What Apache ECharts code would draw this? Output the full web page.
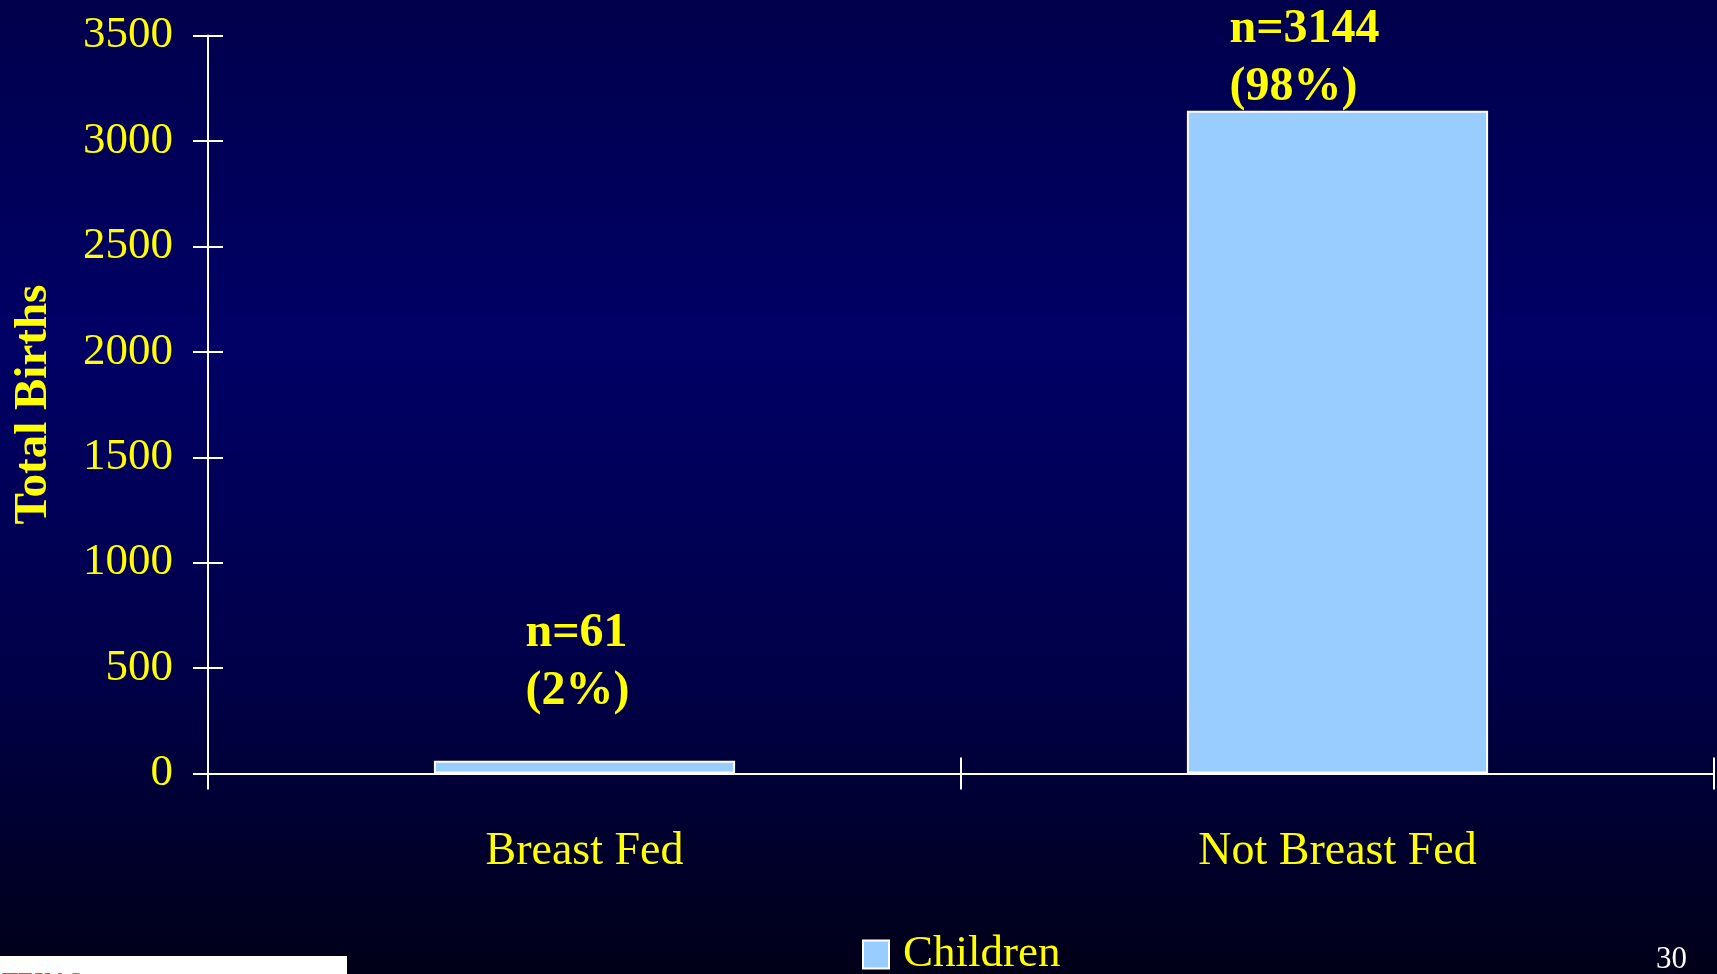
<!DOCTYPE html>
<html>
<head>
<meta charset="utf-8">
<script src="https://cdn.jsdelivr.net/npm/echarts@6/dist/echarts.min.js"></script>
<style>
html,body{margin:0;padding:0;width:1717px;height:974px;overflow:hidden;background:#000050;}
#c{width:1717px;height:974px;}
</style>
</head>
<body>
<div id="c"></div>
<script>
const categories = ['Breast Fed', 'Not Breast Fed'];
const children = [61, 3144];
const percents = [2, 98];
const seriesName = 'Children';
const yTicks = { min: 0, max: 3500, interval: 500 };
const yTitle = 'Total Births';
const pageNumber = '30';

const YELLOW = '#ffff00';
const FONT = '"Liberation Serif", "Times New Roman", serif';
const labelOffsets = [[-59, -40], [-108, 6]];

const chart = echarts.init(document.getElementById('c'), null, { renderer: 'canvas' });

const seriesData = children.map((v, i) => ({
  value: v,
  label: { offset: labelOffsets[i] }
}));

const option = {
  backgroundColor: {
    type: 'linear', x: 0, y: 0, x2: 0, y2: 1,
    colorStops: [
      { offset: 0, color: '#00004c' },
      { offset: 0.35, color: '#000066' },
      { offset: 0.7, color: '#000048' },
      { offset: 1, color: '#000018' }
    ]
  },
  animation: false,
  grid: { left: 208, right: 3, top: 35.6, bottom: 200.5, containLabel: false },
  legend: {
    data: [seriesName],
    left: 862, top: 932, padding: 0,
    icon: 'rect',
    itemWidth: 26, itemHeight: 28, itemGap: 10,
    textStyle: { color: YELLOW, fontSize: 45, fontFamily: FONT, padding: [0, 0, 0, 9] }
  },
  xAxis: [
    {
      type: 'category', data: categories, position: 'bottom',
      axisLine: { lineStyle: { color: '#ffffff', width: 2 } },
      axisTick: { show: true, inside: false, length: 16, lineStyle: { color: '#ffffff', width: 2 } },
      axisLabel: { color: YELLOW, fontSize: 46, fontFamily: FONT, margin: 55 },
      splitLine: { show: false }
    },
    {
      type: 'category', data: categories, position: 'bottom',
      axisLine: { show: false },
      axisTick: { show: true, inside: true, length: 16, lineStyle: { color: '#ffffff', width: 2 } },
      axisLabel: { show: false },
      splitLine: { show: false }
    }
  ],
  yAxis: [
    {
      type: 'value', position: 'left',
      min: yTicks.min, max: yTicks.max, interval: yTicks.interval,
      name: yTitle, nameLocation: 'middle', nameGap: 151,
      nameTextStyle: { color: YELLOW, fontSize: 47, fontWeight: 'bold', fontFamily: FONT },
      axisLine: { show: true, lineStyle: { color: '#ffffff', width: 2 } },
      axisTick: { show: true, inside: false, length: 15, lineStyle: { color: '#ffffff', width: 2 } },
      axisLabel: { color: YELLOW, fontSize: 45, fontFamily: FONT, margin: 35, formatter: v => String(v) },
      splitLine: { show: false }
    },
    {
      type: 'value', position: 'left',
      min: yTicks.min, max: yTicks.max, interval: yTicks.interval,
      axisLine: { show: false },
      axisTick: { show: true, inside: true, length: 15, lineStyle: { color: '#ffffff', width: 2 } },
      axisLabel: { show: false },
      splitLine: { show: false }
    }
  ],
  series: [
    {
      name: seriesName,
      type: 'bar',
      xAxisIndex: 0, yAxisIndex: 0,
      barWidth: '40%',
      data: seriesData,
      itemStyle: { color: '#99ccff', borderColor: '#ffffff', borderWidth: 2 },
      label: {
        show: true,
        position: 'top',
        distance: 0,
        align: 'left',
        verticalAlign: 'bottom',
        color: YELLOW,
        fontSize: 48,
        fontWeight: 'bold',
        fontFamily: FONT,
        lineHeight: 58,
        formatter: p => 'n=' + children[p.dataIndex] + '\n(' + percents[p.dataIndex] + '%)'
      }
    }
  ],
  graphic: [
    {
      type: 'rect', left: 0, top: 956, z: 100,
      shape: { width: 347, height: 18 },
      style: { fill: '#ffffff' }
    },
    {
      type: 'text', left: 2, top: 970, z: 101,
      style: { text: 'TEXAS', fill: '#d24a4a', font: 'bold 24px ' + FONT }
    },
    {
      type: 'text', left: 1656, top: 944, z: 101,
      style: { text: pageNumber, fill: '#ffffff', font: '31px ' + FONT }
    }
  ]
};

chart.setOption(option);
</script>
</body>
</html>
